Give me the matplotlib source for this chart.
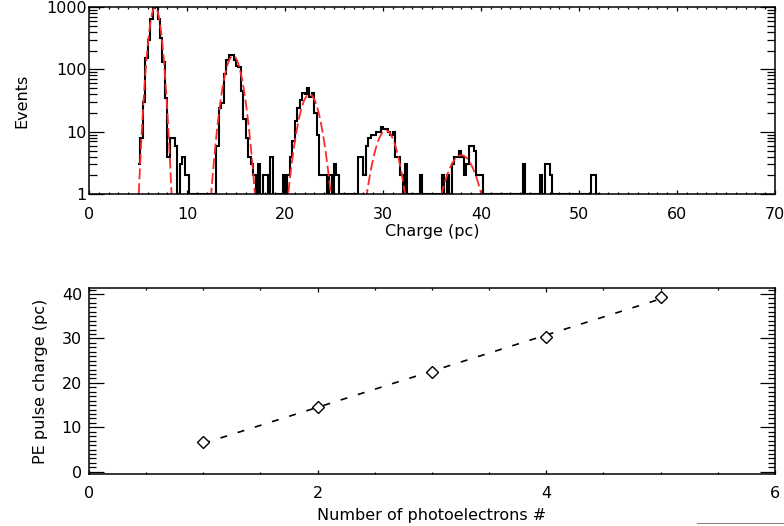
import numpy as np
import matplotlib.pyplot as plt
from matplotlib.ticker import MultipleLocator, LogLocator, NullFormatter
from matplotlib.lines import Line2D

# charge histogram, 0.25 pc bins starting at 5.0 pc
bin_start = 5.0
bin_width = 0.25
counts = [
    3, 8, 30, 150, 300, 650, 950, 1000,      # 5-7
    650, 320, 130, 35, 4, 8, 8, 6,          # 7-9
    0, 3, 4, 2, 2, 0, 0, 0,                 # 9-11
    0, 0, 0, 0, 0, 0, 0, 0,                 # 11-13
    6, 24, 29, 83, 140, 170, 170, 140,      # 13-15
    115, 110, 45, 16, 8, 4, 3, 2,           # 15-17
    0, 3, 0, 2, 2, 0, 4, 0,                 # 17-19
    0, 0, 0, 2, 0, 2, 4, 7,                 # 19-21
    15, 24, 32, 42, 40, 50, 36, 42,         # 21-23
    20, 9, 2, 2, 2, 0, 2, 0,                # 23-25
    3, 2, 0, 0, 0, 0, 0, 0,                 # 25-27
    0, 0, 4, 4, 2, 6, 8, 9,                 # 27-29
    9, 10, 10, 12, 11, 11, 10, 9,           # 29-31
    10, 4, 4, 2, 0, 3, 0, 0,                # 31-33
    0, 0, 0, 2, 0, 0, 0, 0,                 # 33-35
    0, 0, 0, 0, 2, 0, 2, 0,                 # 35-37
    3, 4, 4, 5, 4, 2, 3, 6,                 # 37-39
    6, 5, 2, 2, 2, 0, 0, 0,                 # 39-41
    0, 0, 0, 0, 0, 0, 0, 0,                 # 41-43
    0, 0, 0, 0, 0, 3, 0, 0,                 # 43-45
    0, 0, 0, 0, 2, 0, 3, 3,                 # 45-47
    2, 0, 0, 0, 0, 0, 0, 0,                 # 47-49
    0, 0, 0, 0, 0, 0, 0, 0,                 # 49-51
    0, 2, 2, 0,                             # 51-52
]

# gaussian fits to each photoelectron peak
fit_amp = [1000, 165, 40, 10.5, 4.2]
fit_mu = [6.75, 14.7, 22.5, 30.3, 38.0]
fit_sigma = [0.45, 0.7, 0.8, 0.9, 1.2]

# peak position vs number of photoelectrons
n_pe = [1, 2, 3, 4, 5]
pe_charge = [6.6, 14.5, 22.4, 30.4, 39.3]

plt.rcParams['font.family'] = 'DejaVu Sans'
fs = 11.5

fig = plt.figure(figsize=(7.84, 5.26), dpi=100)

def idl_ticks(ax, ylen_major, ylen_minor, xlen_major, xlen_minor, ypad):
    ax.tick_params(which='both', direction='in', top=True, right=True,
                   labelsize=fs, width=0.9, color='black')
    ax.tick_params(axis='y', which='major', length=ylen_major, pad=ypad)
    ax.tick_params(axis='y', which='minor', length=ylen_minor)
    ax.tick_params(axis='x', which='major', length=xlen_major, pad=9)
    ax.tick_params(axis='x', which='minor', length=xlen_minor)
    for s in ax.spines.values():
        s.set_linewidth(1.1)

# top panel
ax1 = fig.add_axes([0.1135, 0.631, 0.875, 0.3555])
counts = np.array(counts, dtype=float)
edges = bin_start + bin_width * np.arange(len(counts) + 1)
ax1.stairs(np.where(counts > 0, counts, 1), edges, color='black', lw=1.5,
           baseline=None)
for a, m, s in zip(fit_amp, fit_mu, fit_sigma):
    xx = np.linspace(m - 4 * s, m + 4 * s, 300)
    yy = a * np.exp(-0.5 * ((xx - m) / s) ** 2)
    ax1.plot(xx, yy, color='#ff2a2a', lw=1.3, dashes=(6, 2.2))
ax1.set_yscale('log')
ax1.set_xlim(0, 70)
ax1.set_ylim(1, 1000)
ax1.yaxis.set_minor_locator(LogLocator(base=10, subs=np.arange(2, 10), numticks=10))
ax1.yaxis.set_minor_formatter(NullFormatter())
ax1.set_yticks([1, 10, 100, 1000])
ax1.set_yticklabels(['1', '10', '100', '1000'])
ax1.xaxis.set_major_locator(MultipleLocator(10))
ax1.xaxis.set_minor_locator(MultipleLocator(1))
idl_ticks(ax1, 10.5, 5.5, 2.8, 1.5, 1.5)
ax1.set_xlabel('Charge (pc)', fontsize=fs, labelpad=2)
ax1.set_ylabel('Events', fontsize=fs, labelpad=12)

# bottom panel
ax2 = fig.add_axes([0.1135, 0.0989, 0.875, 0.3536])
coef = np.polyfit(n_pe, pe_charge, 1)
ax2.plot(n_pe, np.polyval(coef, n_pe), color='black', lw=1.2, dashes=(4.2, 6.6))
ax2.plot(n_pe, pe_charge, 'D', mfc='white', mec='black', ms=6.5, mew=1.0)
ax2.set_xlim(0, 6)
ax2.set_ylim(-0.5, 41.35)
ax2.xaxis.set_major_locator(MultipleLocator(2))
ax2.xaxis.set_minor_locator(MultipleLocator(0.5))
ax2.yaxis.set_major_locator(MultipleLocator(10))
ax2.yaxis.set_minor_locator(MultipleLocator(1))
idl_ticks(ax2, 10.5, 5.0, 2.8, 1.5, 5)
ax2.set_xlabel('Number of photoelectrons #', fontsize=fs, labelpad=5)
ax2.set_ylabel('PE pulse charge (pc)', fontsize=fs, labelpad=10)

# stray edge of neighbouring figure at lower right
fig.add_artist(Line2D([0.889, 1.0], [0.006, 0.006], color='#888888', lw=0.8))

fig.savefig('out.png', dpi=100)
